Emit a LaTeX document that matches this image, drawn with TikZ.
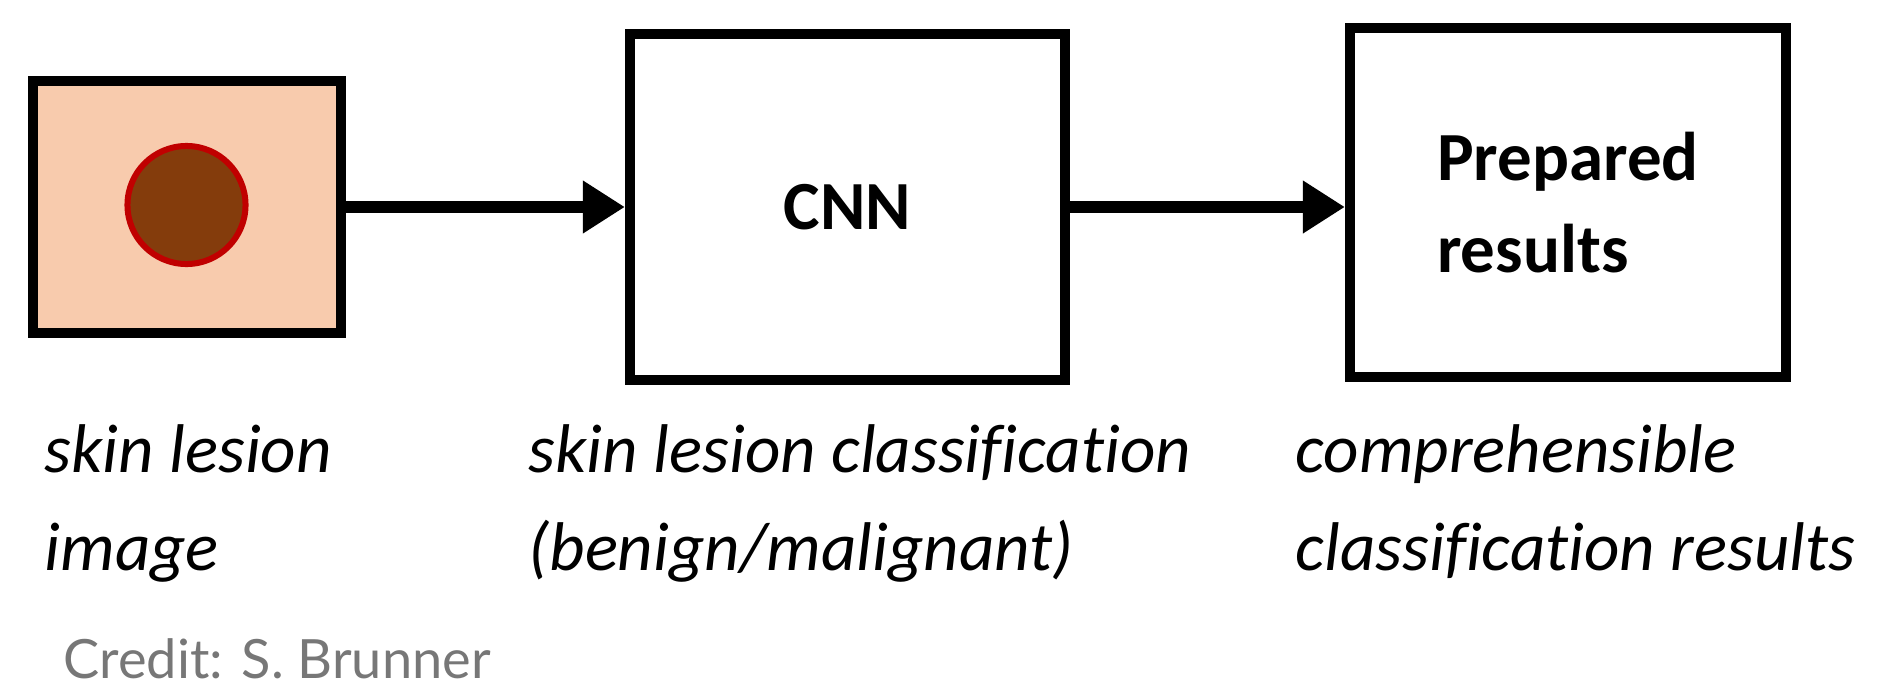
\documentclass[tikz,border=0pt]{standalone}
\usepackage{fontspec}
\setmainfont{Carlito}[Ligatures=NoCommon]
\newfontfamily\creditfont{Lato}
\usetikzlibrary{arrows.meta}
\definecolor{skin}{HTML}{F8CBAD}
\definecolor{lesionfill}{HTML}{843C0C}
\definecolor{lesionedge}{HTML}{C00000}
\definecolor{creditgray}{HTML}{777777}
\begin{document}
\begin{tikzpicture}[x=0.01cm, y=0.01cm,
    stage/.style={rectangle, draw, line width=0.1cm, inner sep=0pt, font=\fontsize{19.6}{26}\selectfont\bfseries},
    arrow/.style={-{Triangle[length=0.42cm, width=0.5cm]}, line width=0.12cm},
    caption/.style={anchor=base west, inner sep=0pt, align=left, font=\fontsize{19.6}{27.6}\selectfont\itshape}
]
    \useasboundingbox (0,0) rectangle (1879,690);

    \node[stage, fill=skin, minimum width=3.08cm, minimum height=2.51cm] (img) at (187,483) {};
    \node[circle, fill=lesionfill, draw=lesionedge, line width=0.06cm, minimum size=1.18cm, inner sep=0pt] (lesion) at (186.5,485) {};
    \node[stage, minimum width=4.35cm, minimum height=3.46cm] (cnn) at (847.5,483) {CNN};
    \node[stage, minimum width=4.36cm, minimum height=3.49cm, align=left] (res) at (1568,487.5) {Prepared\\results};

    \draw[arrow] (img) -- (cnn);
    \draw[arrow] (cnn.east) -- (cnn.east -| res.west);

    % base anchor sits on the last line
    \node[caption] (capimg) at (44,120) {skin lesion\\image};
    \node[caption] (capcnn) at (528,120) {skin lesion classification\\(benign/malignant)};
    \node[caption] (capres) at (1295,120) {comprehensible\\classification results};

    \node[anchor=base west, inner sep=0pt, text=creditgray, font=\creditfont\fontsize{15.4}{18}\selectfont] (credit) at (63,12) {Credit: S. Brunner};
\end{tikzpicture}
\end{document}
